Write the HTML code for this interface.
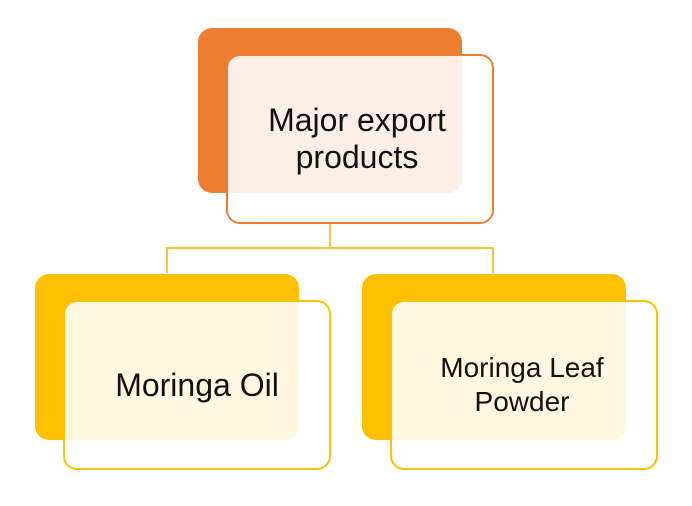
<!DOCTYPE html>
<html><head><style>
body{margin:0;width:692px;height:506px;background:#fff;position:relative;overflow:hidden;font-family:"Liberation Sans",sans-serif;}
.b{position:absolute;border-radius:14px;}
.f{position:absolute;border-radius:14px;background:rgba(255,255,255,0.88);box-sizing:border-box;border:2px solid;display:flex;align-items:center;justify-content:center;text-align:center;color:#111;font-size:32px;line-height:37px;white-space:nowrap;}
.l{position:absolute;background:#f7c43a;}
</style></head><body>
<div class="b" style="left:198px;top:28px;width:264px;height:165px;background:#ed7d31"></div>
<div class="f" style="left:226px;top:54px;width:268px;height:170px;border-color:#ed7d31"><div style="margin-top:0px;margin-left:-6px">Major export<br>products</div></div>
<div class="l" style="left:329px;top:224px;width:2px;height:24px"></div>
<div class="l" style="left:166px;top:247px;width:328px;height:2px"></div>
<div class="l" style="left:166px;top:247px;width:2px;height:26px"></div>
<div class="l" style="left:492px;top:247px;width:2px;height:26px"></div>
<div class="b" style="left:35px;top:274px;width:264px;height:166px;background:#ffc000"></div>
<div class="f" style="left:63px;top:300px;width:268px;height:170px;border-color:#ffc000"><div style="margin-top:0px;margin-left:0px">Moringa Oil</div></div>
<div class="b" style="left:362px;top:274px;width:264px;height:166px;background:#ffc000"></div>
<div class="f" style="left:390px;top:300px;width:268px;height:170px;border-color:#ffc000;font-size:28px;line-height:34px"><div style="margin-top:0px;margin-left:-4px">Moringa Leaf<br>Powder</div></div>
</body></html>
